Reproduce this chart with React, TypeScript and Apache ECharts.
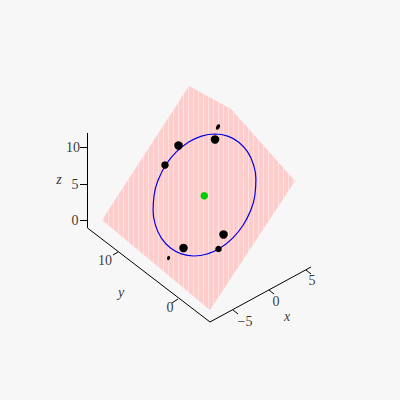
import React, { useEffect, useRef } from "react";
import * as echarts from "echarts";

const planeOutline: number[][] = [[189, 86], [231, 109], [295, 181], [210, 310], [102, 220]];
const ellipsePoints: number[][] = [
  [215, 134], [227.7, 136.1], [238.8, 142.2], [247.6, 151.9], [253.4, 164.5], [255.9, 179.2],
  [254.9, 195], [250.5, 210.8], [242.9, 225.5], [232.7, 238.1], [220.6, 247.8], [207.4, 253.9],
  [194, 256], [181.3, 253.9], [170.2, 247.8], [161.4, 238.1], [155.6, 225.5], [153.1, 210.8],
  [154.1, 195], [158.5, 179.2], [166.1, 164.5], [176.3, 151.9], [188.4, 142.2], [201.6, 136.1], [215, 134],
];
const blackDots: number[][] = [
  [178.5, 145.5, 8.5], [165, 165, 7.5], [215, 139.5, 8.5], [183.5, 248, 8.5], [223.5, 234.5, 8.5], [218.5, 249, 6.5],
];
const slivers: number[][] = [[218, 127, 3.5, 6, -30], [168.5, 258, 3, 4.5, -10]];
const centerDot: number[][] = [[204.3, 195.7, 7.5]];
const zAxisLine: number[][] = [[87.5, 133], [87.5, 228]];
const yAxisLine: number[][] = [[87.5, 228], [210, 322]];
const xAxisLine: number[][] = [[210, 322], [311, 267]];
const tickSegments: number[][][] = [
  [[87, 147.5], [80, 147.5]], [[87, 184.5], [80, 184.5]], [[87, 220.5], [80, 220.5]],
  [[118, 252], [113, 255]], [[178, 299], [172, 303]],
  [[233, 310], [238, 314]], [[269, 290], [274, 294]], [[306, 270], [311, 274]],
];
const tickLabels: [number, number, string][] = [
  [73, 147, "10"], [75, 184, "5"], [75, 220, "0"],
  [105, 260, "10"], [170, 307, "0"],
  [245, 321, "\u22125"], [276, 301, "0"], [312, 280, "5"],
];
const axisNames: [number, number, string][] = [[287, 316, "x"], [121, 292, "y"], [59, 179, "z"]];

const PINK = "#ffcccc";
const STRIPE = "#ffe2e2";
const STRIPE_STEP = 5;

function polygonRangeAtX(x: number, poly: number[][]): [number, number] | null {
  const ys: number[] = [];
  for (let i = 0; i < poly.length; i++) {
    const [x1, y1] = poly[i];
    const [x2, y2] = poly[(i + 1) % poly.length];
    if ((x1 <= x && x < x2) || (x2 <= x && x < x1)) ys.push(y1 + ((x - x1) / (x2 - x1)) * (y2 - y1));
  }
  return ys.length < 2 ? null : [Math.min(...ys), Math.max(...ys)];
}

const lineSeries = (data: number[][], color = "#000", width = 1, extra: object = {}) => ({
  type: "line", data, symbol: "none", silent: true, lineStyle: { color, width }, ...extra,
});

const textLabel = (extra: object = {}) => ({
  show: true, position: "inside", formatter: (p: any) => p.data[2],
  fontFamily: "Liberation Serif", fontSize: 14, color: "#000", textBorderWidth: 0, textShadowBlur: 0, ...extra,
});

export default function App() {
  const ref = useRef<HTMLDivElement>(null);
  useEffect(() => {
    document.body.style.margin = "0";
    const chart = echarts.init(ref.current!, undefined, { renderer: "svg" });
    const hidden = { show: false };
    chart.setOption({
      animation: false,
      backgroundColor: "#f7f7f7",
      grid: { left: 0, right: 0, top: 0, bottom: 0 },
      xAxis: { type: "value", min: 0, max: 400, ...hidden },
      yAxis: { type: "value", min: 0, max: 400, inverse: true, ...hidden },
      series: [
        {
          type: "custom",
          silent: true,
          z: 1,
          data: [0],
          renderItem: (_p: any, api: any) => {
            const pts = planeOutline.map((p) => api.coord(p));
            const children: any[] = [
              { type: "polygon", shape: { points: pts }, style: { fill: PINK, stroke: "none" } },
            ];
            for (let x = 103; x < 295; x += STRIPE_STEP) {
              const r = polygonRangeAtX(x + 0.5, planeOutline);
              if (r) children.push({ type: "rect", shape: { x, y: r[0], width: 1, height: r[1] - r[0] }, style: { fill: STRIPE } });
            }
            return { type: "group", children };
          },
        },
        lineSeries(zAxisLine),
        lineSeries(yAxisLine),
        lineSeries(xAxisLine),
        ...tickSegments.map((s) => lineSeries(s)),
        lineSeries(ellipsePoints, "#0000e6", 1.2, { smooth: true }),
        {
          type: "scatter", data: blackDots, silent: true, z: 10,
          symbolSize: (v: number[]) => v[2], itemStyle: { color: "#000", opacity: 1 },
        },
        ...slivers.map((s) => ({
          type: "scatter", data: [s], silent: true, z: 10,
          symbolSize: [s[2], s[3]], symbolRotate: s[4], itemStyle: { color: "#000", opacity: 1 },
        })),
        {
          type: "scatter", data: centerDot, silent: true, z: 10,
          symbolSize: (v: number[]) => v[2], itemStyle: { color: "#00cc00", opacity: 1 },
        },
        { type: "scatter", data: tickLabels, silent: true, symbolSize: 0, z: 10, label: textLabel() },
        { type: "scatter", data: axisNames, silent: true, symbolSize: 0, z: 10, label: textLabel({ fontStyle: "italic" }) },
      ],
    });
    return () => chart.dispose();
  }, []);
  return <div ref={ref} style={{ width: 400, height: 400 }} />;
}
